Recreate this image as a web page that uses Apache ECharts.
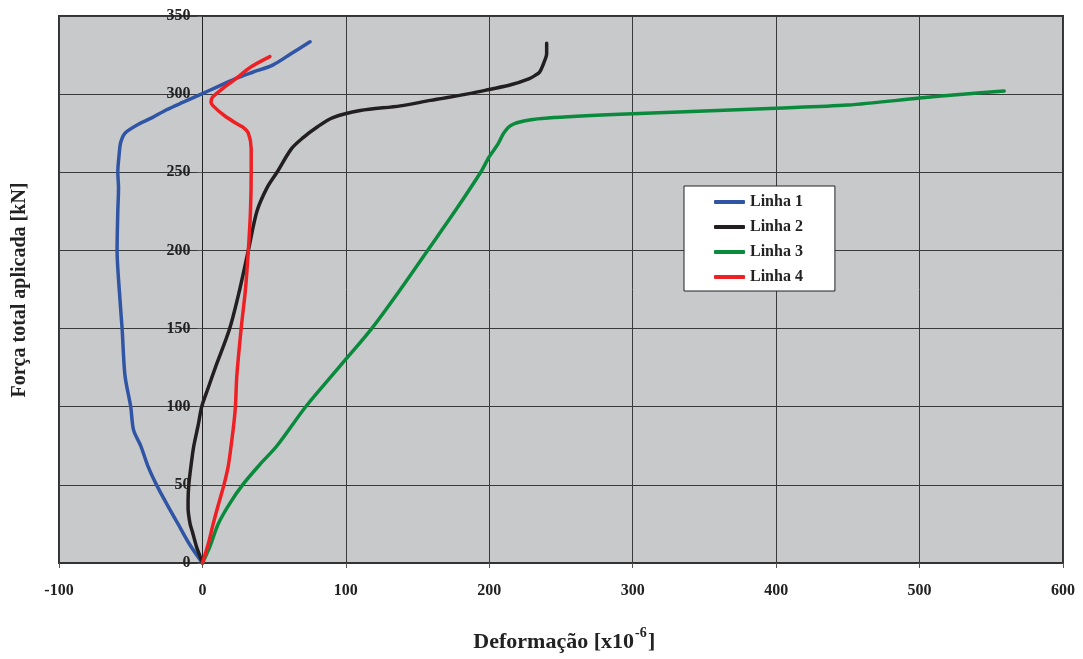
<!DOCTYPE html>
<html><head><meta charset="utf-8">
<script src="https://cdn.jsdelivr.net/npm/echarts@6/dist/echarts.min.js"></script>
<style>html,body{margin:0;padding:0;background:#fff}#c{width:1083px;height:659px}</style>
</head><body><div id="c"></div>
<script>
var seriesNames = ['Linha 1', 'Linha 2', 'Linha 3', 'Linha 4'];
var xTicks = [-100, 0, 100, 200, 300, 400, 500, 600];
var yTicks = [0, 50, 100, 150, 200, 250, 300, 350];
// [deformação, força]
var linha1 = [[0,0],[-9,12],[-17,25],[-25,38],[-32,50],[-38,62],[-43,75],[-48,85],[-50,100],[-54,120],[-56,150],[-58,175],[-59.5,200],[-59,225],[-58.5,240],[-59,250],[-58,262],[-57,269],[-54,275],[-44,281],[-35,285],[-25,290],[-13,295],[-2,299.5],[10,304.5],[22,309.5],[35,314],[49,318.6],[62,326],[75,333.5]];
var linha2 = [[0,0],[-2,5],[-4,10],[-7,20],[-8.6,25],[-10,35],[-10,40],[-9.5,50],[-8,62],[-6,75],[-3,88],[-0.5,100],[4,112],[9,125],[19,150],[26,175],[32,200],[38,225],[45,240],[52,250],[62,265],[70,272],[80,279],[91,285],[110,289.5],[138,292.5],[159,296],[187,300.5],[200,303],[215,306],[228,310],[232,312],[235,314],[238,320],[240,326],[240,332.5]];
var linha3 = [[0,0],[5,10],[11,25],[19,38],[28,50],[40,63],[52,75],[72,100],[95,125],[118,150],[138,175],[157,200],[176,225],[194,250],[200,260],[206,268],[210,275],[215,280],[225,283],[245,285],[300,287.5],[400,291],[450,293],[500,297.5],[530,300],[559,302]];
var linha4 = [[0,0],[4,12],[7.5,25],[11,37],[15,50],[18,62],[20,75],[22,90],[23,100],[24,120],[27,150],[30,175],[32,200],[33.5,225],[34,250],[34,265],[32,275],[28,279],[24,281],[15,286.5],[8,292],[6,295],[7,298],[10,300.5],[16,305],[22,309],[34,317.5],[47,324]];
var colors = ['#2f55a4', '#231f20', '#0a8a3c', '#ee2024'];

var FONT = '"Liberation Serif", "Times New Roman", serif';
var GRID_LEFT = 59, GRID_RIGHT = 20, W = 1083;
var plotW = W - GRID_LEFT - GRID_RIGHT;
var zeroOffset = -plotW * (0 - xTicks[0]) / (xTicks[xTicks.length-1] - xTicks[0]);
var chart = echarts.init(document.getElementById('c'), null, {renderer: 'canvas'});
function mk(name, data, color) {
  return {name: name, type: 'line', data: data, symbol: 'none', smooth: 0.3,
    lineStyle: {color: color, width: 3.5, cap: 'round', join: 'round'}, itemStyle: {color: color}};
}
chart.setOption({
  animation: false,
  grid: {left: GRID_LEFT, top: 16, right: GRID_RIGHT, bottom: 96, show: true, backgroundColor: '#c8c9cb', borderColor: '#333', borderWidth: 2},
  xAxis: {type: 'value', min: xTicks[0], max: xTicks[xTicks.length-1], interval: 100,
    axisLine: {show: true, onZero: false, lineStyle: {color: '#333', width: 2}},
    axisTick: {show: true, inside: false, length: 5, lineStyle: {color: '#555'}},
    axisLabel: {margin: 20, color: '#222', fontFamily: FONT, fontWeight: 'bold', fontSize: 16},
    splitLine: {show: true, lineStyle: {color: '#3a3a3a', width: 1}}},
  yAxis: {type: 'value', min: yTicks[0], max: yTicks[yTicks.length-1], interval: 50,
    position: 'left', offset: zeroOffset,
    axisLine: {show: true, onZero: false, lineStyle: {color: '#222', width: 1}},
    axisTick: {show: true, inside: false, length: 5, lineStyle: {color: '#555'}},
    axisLabel: {margin: 12, color: '#222', fontFamily: FONT, fontWeight: 'bold', fontSize: 16},
    splitLine: {show: true, lineStyle: {color: '#3a3a3a', width: 1}}},
  legend: {orient: 'vertical', left: 684, top: 186, data: seriesNames,
    backgroundColor: '#fff', borderColor: '#222', borderWidth: 1,
    padding: [8, 32, 6, 30], itemGap: 9, itemWidth: 31, itemHeight: 4, icon: 'roundRect',
    textStyle: {fontFamily: FONT, fontWeight: 'bold', fontSize: 16, color: '#222'}},
  graphic: [
    {type: 'text', x: 20, y: 290, rotation: Math.PI/2,
      style: {text: 'Força total aplicada [kN]', fontFamily: FONT, fontWeight: 'bold', fontSize: 20, fill: '#222', textAlign: 'center', textVerticalAlign: 'middle'}},
    {type: 'text', x: 634, y: 642,
      style: {text: 'Deformação [x10', fontFamily: FONT, fontWeight: 'bold', fontSize: 22, fill: '#222', textAlign: 'right', textVerticalAlign: 'middle'}},
    {type: 'text', x: 635, y: 633,
      style: {text: '-6', fontFamily: FONT, fontWeight: 'bold', fontSize: 14, fill: '#222', textAlign: 'left', textVerticalAlign: 'middle'}},
    {type: 'text', x: 648, y: 642,
      style: {text: ']', fontFamily: FONT, fontWeight: 'bold', fontSize: 22, fill: '#222', textAlign: 'left', textVerticalAlign: 'middle'}}
  ],
  series: [mk(seriesNames[0], linha1, colors[0]), mk(seriesNames[1], linha2, colors[1]), mk(seriesNames[2], linha3, colors[2]), mk(seriesNames[3], linha4, colors[3])]
});
</script></body></html>
